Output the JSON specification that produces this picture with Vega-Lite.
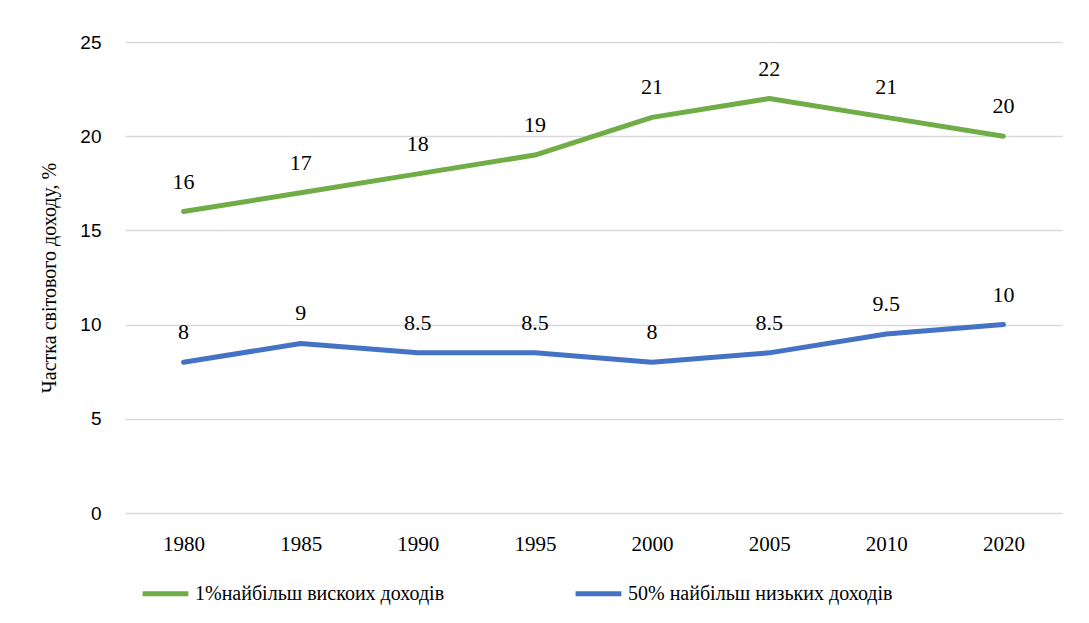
{
  "$schema": "https://vega.github.io/schema/vega-lite/v6.json",
  "width": 937,
  "height": 471,
  "autosize": {"type": "none"},
  "padding": {"left": 125, "top": 42, "right": 27, "bottom": 110},
  "background": "white",
  "config": {"view": {"stroke": null}},
  "data": {"values": [
    {"year": "1980", "series": "1%найбільш вискоих доходів", "value": 16},
    {"year": "1985", "series": "1%найбільш вискоих доходів", "value": 17},
    {"year": "1990", "series": "1%найбільш вискоих доходів", "value": 18},
    {"year": "1995", "series": "1%найбільш вискоих доходів", "value": 19},
    {"year": "2000", "series": "1%найбільш вискоих доходів", "value": 21},
    {"year": "2005", "series": "1%найбільш вискоих доходів", "value": 22},
    {"year": "2010", "series": "1%найбільш вискоих доходів", "value": 21},
    {"year": "2020", "series": "1%найбільш вискоих доходів", "value": 20},
    {"year": "1980", "series": "50% найбільш низьких доходів", "value": 8},
    {"year": "1985", "series": "50% найбільш низьких доходів", "value": 9},
    {"year": "1990", "series": "50% найбільш низьких доходів", "value": 8.5},
    {"year": "1995", "series": "50% найбільш низьких доходів", "value": 8.5},
    {"year": "2000", "series": "50% найбільш низьких доходів", "value": 8},
    {"year": "2005", "series": "50% найбільш низьких доходів", "value": 8.5},
    {"year": "2010", "series": "50% найбільш низьких доходів", "value": 9.5},
    {"year": "2020", "series": "50% найбільш низьких доходів", "value": 10}
  ]},
  "encoding": {
    "x": {
      "field": "year", "type": "ordinal",
      "scale": {"type": "point", "padding": 0.5},
      "axis": {
        "title": null, "labelAngle": 0, "labelFont": "Liberation Serif", "labelFontSize": 21,
        "labelColor": "#000000", "ticks": false, "domain": false, "labelPadding": 20, "grid": false
      }
    },
    "y": {
      "field": "value", "type": "quantitative",
      "scale": {"domain": [0, 25]},
      "axis": {
        "values": [0, 5, 10, 15, 20, 25],
        "title": "Частка світового доходу, %", "titleFont": "Liberation Serif", "titleFontSize": 20,
        "titleFontWeight": "normal", "titleColor": "#000000", "titlePadding": 20,
        "labelFont": "Liberation Sans", "labelFontSize": 19, "labelColor": "#000000",
        "ticks": false, "domain": false, "labelPadding": 24,
        "grid": true, "gridColor": "#d9d9d9", "gridWidth": 1.5
      }
    }
  },
  "layer": [
    {
      "mark": {"type": "line", "strokeWidth": 5, "strokeCap": "round", "strokeJoin": "round"},
      "encoding": {
        "color": {
          "field": "series", "type": "nominal",
          "scale": {
            "domain": ["1%найбільш вискоих доходів", "50% найбільш низьких доходів"],
            "range": ["#70AD47", "#4472C4"]
          },
          "legend": {
            "title": null, "orient": "none", "legendX": 15, "legendY": 526,
            "direction": "horizontal", "columns": 2, "columnPadding": 120,
            "symbolType": "stroke", "symbolSize": 2100, "symbolStrokeWidth": 5,
            "labelFont": "Liberation Serif", "labelFontSize": 20, "labelColor": "#000000",
            "labelOffset": 4, "labelLimit": 500
          }
        }
      }
    },
    {
      "mark": {"type": "text", "font": "Liberation Serif", "fontSize": 22, "dy": -30, "color": "#000000"},
      "encoding": {"text": {"field": "value", "type": "quantitative"}}
    }
  ]
}
